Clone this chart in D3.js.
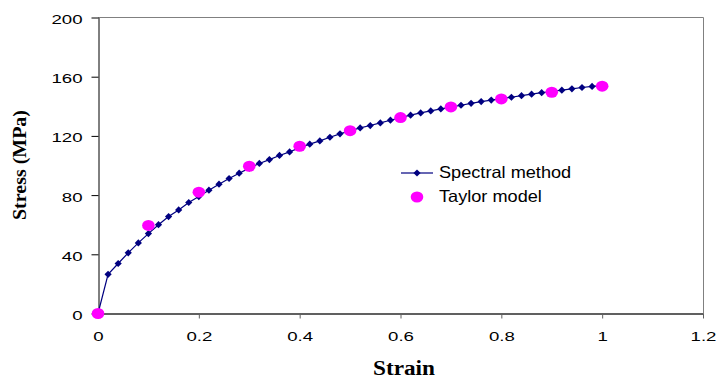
<!DOCTYPE html>
<html>
<head>
<meta charset="utf-8">
<script src="https://cdn.jsdelivr.net/npm/d3@7"></script>
<style>
  html, body { margin: 0; padding: 0; background: #fff; }
  svg { display: block; }
</style>
</head>
<body>
<svg id="chart" width="716" height="381"></svg>
<script>
// Spectral method: stress every 0.02 strain
const spectralStrain = d3.range(0, 51).map(i => +(i * 0.02).toFixed(2));
const spectralStress = [
  0, 26.5, 33.8, 41, 47.7, 54, 60, 65.5, 70, 75,
  79, 83.3, 87.4, 91.2, 94.8, 98.2, 101.4, 104, 106.8, 109.2,
  112, 114.4, 116.6, 119.1, 121.4, 123.5, 125.4, 127, 128.8, 130.6,
  132.3, 134, 135.5, 136.9, 138.2, 139.5, 140.7, 142, 143.2, 144.2,
  145.2, 146.1, 147.2, 148.2, 149.2, 150, 150.9, 151.8, 152.7, 153.4,
  154
];
// Taylor model
const taylorStrain = [0, 0.1, 0.2, 0.3, 0.4, 0.5, 0.6, 0.7, 0.8, 0.9, 1.0];
const taylorStress = [0, 59.5, 82, 99.5, 113, 123.5, 132.4, 139.6, 145, 149.5, 153.6];

const xTicks = [0, 0.2, 0.4, 0.6, 0.8, 1, 1.2];
const yTicks = [0, 40, 80, 120, 160, 200];
const seriesNames = ["Spectral method", "Taylor model"];

const svg = d3.select("#chart");
const plot = { left: 98, right: 703, top: 17.5, bottom: 313.5 };

const x = d3.scaleLinear().domain([0, 1.2]).range([plot.left, plot.right]);
const y = d3.scaleLinear().domain([0, 200]).range([plot.bottom, plot.top]);

const sans = "'Liberation Sans', Arial, sans-serif";
const serif = "'Liberation Serif', 'Times New Roman', serif";

// Widen a text element horizontally by a factor
function widen(sel, k) {
  sel.each(function () {
    const w = this.getComputedTextLength();
    d3.select(this).attr("textLength", w * k).attr("lengthAdjust", "spacingAndGlyphs");
  });
}

// Plot area border (top and right)
svg.append("path")
  .attr("d", `M${plot.left},${plot.top}H${plot.right + 0.5}V${plot.bottom}`)
  .attr("fill", "none").attr("stroke", "#808080").attr("stroke-width", 1);

// Y axis
const yAxis = svg.append("g")
  .attr("transform", `translate(${plot.left + 0.5},0)`)
  .call(d3.axisLeft(y).tickValues(yTicks).tickSize(7).tickSizeOuter(0).tickPadding(9)
    .tickFormat(d3.format("d")));
yAxis.select(".domain").attr("stroke", "#000");
yAxis.selectAll(".tick line").attr("stroke", "#000");
yAxis.selectAll("text")
  .attr("font-family", sans).attr("font-size", 13.5).attr("fill", "#000")
  .attr("dy", "0.45em")
  .call(widen, 1.38);

// X axis
const xAxis = svg.append("g")
  .attr("transform", `translate(0,${plot.bottom})`)
  .call(d3.axisBottom(x).tickValues(xTicks).tickSize(5).tickSizeOuter(0).tickPadding(13)
    .tickFormat(d => d3.format("~g")(d)));
xAxis.select(".domain").attr("stroke", "#606060").attr("stroke-width", 2);
xAxis.selectAll(".tick line").attr("stroke", "#606060");
xAxis.selectAll("text")
  .attr("font-family", sans).attr("font-size", 13.5).attr("fill", "#000")
  .call(widen, 1.38);

// Axis titles
svg.append("text")
  .attr("x", 404).attr("y", 375)
  .attr("text-anchor", "middle")
  .attr("font-family", serif).attr("font-weight", "bold").attr("font-size", 20)
  .attr("textLength", 62).attr("lengthAdjust", "spacingAndGlyphs")
  .text("Strain");
svg.append("text")
  .attr("transform", `translate(26,165) rotate(-90)`)
  .attr("text-anchor", "middle")
  .attr("font-family", serif).attr("font-weight", "bold").attr("font-size", 18)
  .attr("textLength", 110).attr("lengthAdjust", "spacingAndGlyphs")
  .text("Stress (MPa)");

const navy = "#000080", magenta = "#FF00FF";
const spectral = spectralStrain.map((s, i) => ({ s, v: spectralStress[i] }));
const taylor = taylorStrain.map((s, i) => ({ s, v: taylorStress[i] }));

const diamond = (cx, cy, r) => `M${cx},${cy - r}L${cx + r},${cy}L${cx},${cy + r}L${cx - r},${cy}Z`;

// Spectral method line + diamond markers
svg.append("path")
  .datum(spectral)
  .attr("d", d3.line().x(d => x(d.s)).y(d => y(d.v)))
  .attr("fill", "none").attr("stroke", navy).attr("stroke-width", 1.2);
svg.append("g").selectAll("path")
  .data(spectral).join("path")
  .attr("d", d => diamond(x(d.s), y(d.v), 3.6))
  .attr("fill", navy);

// Taylor model markers
svg.append("g").selectAll("ellipse")
  .data(taylor).join("ellipse")
  .attr("cx", d => x(d.s)).attr("cy", d => y(d.v))
  .attr("rx", 6.3).attr("ry", 5.5)
  .attr("fill", magenta);

// Legend
const lg = svg.append("g");
lg.append("line").attr("x1", 401).attr("x2", 433).attr("y1", 173).attr("y2", 173)
  .attr("stroke", navy).attr("stroke-width", 1.2);
lg.append("path").attr("d", diamond(417, 173, 3.6)).attr("fill", navy);
lg.append("ellipse").attr("cx", 417).attr("cy", 197).attr("rx", 6.3).attr("ry", 5.5).attr("fill", magenta);
lg.selectAll("text").data(seriesNames).join("text")
  .attr("x", 439).attr("y", (d, i) => 172 + i * 24.5)
  .attr("dy", "0.36em")
  .attr("font-family", sans).attr("font-size", 16.5).attr("fill", "#000")
  .text(d => d)
  .call(widen, 1.1);
</script>
</body>
</html>
